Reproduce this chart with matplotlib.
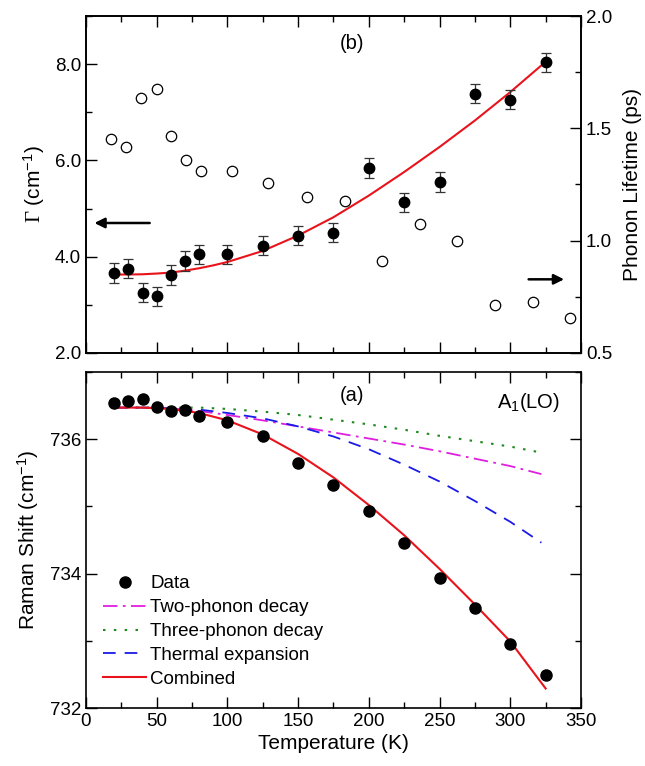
import matplotlib
matplotlib.use("Agg")
import numpy as np
import matplotlib.pyplot as plt

plt.rcParams['font.family'] = ['Liberation Sans', 'DejaVu Sans']
plt.rcParams['mathtext.fontset'] = 'custom'
plt.rcParams['mathtext.rm'] = 'Liberation Serif'
plt.rcParams['mathtext.sf'] = 'Liberation Sans'
plt.rcParams['mathtext.it'] = 'Liberation Sans:italic'
plt.rcParams['xtick.direction'] = 'in'
plt.rcParams['ytick.direction'] = 'in'

# ---- panel (b): linewidth and lifetime ----
T_gamma = [20, 30, 40, 50, 60, 70, 80, 100, 125, 150, 175, 200, 225, 250, 275, 300, 325]
gamma = [3.66, 3.75, 3.25, 3.18, 3.62, 3.91, 4.05, 4.05, 4.23, 4.44, 4.50, 5.84, 5.13, 5.55, 7.39, 7.26, 8.04]
gamma_err = [0.2] * 17

T_gfit = [20, 30, 40, 50, 60, 70, 80, 90, 100, 125, 150, 175, 200, 225, 250, 275, 300, 325]
gamma_fit = [3.63, 3.63, 3.635, 3.65, 3.67, 3.71, 3.76, 3.82, 3.89, 4.12, 4.44, 4.82, 5.27, 5.76, 6.28, 6.83, 7.42, 8.05]

T_life = [17.5, 28, 39, 50, 60, 71, 81, 103, 129, 156, 183, 209, 236, 262, 289, 316, 342]
lifetime = [1.451, 1.417, 1.636, 1.674, 1.465, 1.361, 1.312, 1.312, 1.257, 1.194, 1.178,
            0.909, 1.075, 0.998, 0.714, 0.729, 0.656]

# ---- panel (a): Raman shift ----
T_shift = [20, 30, 40, 50, 60, 70, 80, 100, 125, 150, 175, 200, 225, 250, 275, 300, 325]
shift = [736.54, 736.57, 736.60, 736.48, 736.42, 736.44, 736.34, 736.26, 736.05, 735.64,
         735.32, 734.93, 734.46, 733.93, 733.49, 732.95, 732.49]

T_comb = [20, 40, 60, 80, 100, 125, 150, 175, 200, 225, 250, 275, 300, 325]
combined = [736.47, 736.47, 736.45, 736.39, 736.28, 736.07, 735.78, 735.43, 735.02, 734.57,
            734.07, 733.54, 732.99, 732.29]

T_part = [20, 40, 60, 80, 100, 125, 150, 175, 200, 225, 250, 275, 300, 322]
two_phonon = [736.47, 736.47, 736.46, 736.42, 736.36, 736.28, 736.19, 736.10, 736.01, 735.92,
              735.82, 735.71, 735.60, 735.48]
three_phonon = [736.47, 736.47, 736.47, 736.47, 736.45, 736.41, 736.36, 736.29, 736.22, 736.14,
                736.05, 735.97, 735.89, 735.80]
thermal = [736.47, 736.47, 736.46, 736.44, 736.39, 736.31, 736.19, 736.04, 735.85, 735.62,
           735.37, 735.08, 734.77, 734.46]

fs = 13.5
fig = plt.figure(figsize=(6.45, 7.66), dpi=100)
axb = fig.add_axes([0.1333, 0.5392, 0.7675, 0.4399])
axa = fig.add_axes([0.1333, 0.0757, 0.7675, 0.4387])

# top panel
axb.errorbar(T_gamma, gamma, yerr=gamma_err, fmt='o', color='k', ms=7.5,
             ecolor='#333333', elinewidth=0.9, capsize=3.5, capthick=0.9, zorder=3)
axb.plot(T_gfit, gamma_fit, color='#e8131b', lw=1.5, zorder=2)
axb.set_xlim(0, 350)
axb.set_ylim(2, 9)
axb.set_yticks([2, 4, 6, 8])
axb.set_yticks([3, 5, 7, 9], minor=True)
axb.set_yticklabels(['2.0', '4.0', '6.0', '8.0'])
axb.set_xticks(np.arange(0, 351, 50))
axb.set_xticks(np.arange(25, 350, 50), minor=True)
axb.tick_params(axis='x', which='both', top=True, labelbottom=False)
axb.tick_params(axis='y', which='both', right=False)
axb.tick_params(which='major', length=8, width=1, labelsize=fs)
axb.tick_params(which='minor', length=4, width=1)
axb.set_ylabel(r'$\Gamma$ (cm$^{\mathsf{-1}}$)', fontsize=15, labelpad=6)
axb.text(188, 8.43, '(b)', fontsize=14.5, ha='center', va='center')
axb.annotate('', xy=(4, 4.70), xytext=(47, 4.70),
             arrowprops=dict(arrowstyle='-|>', color='k', lw=1.8, mutation_scale=15))
axb.annotate('', xy=(340, 3.53), xytext=(311, 3.53),
             arrowprops=dict(arrowstyle='-|>', color='k', lw=1.8, mutation_scale=15))

axr = axb.twinx()
axr.plot(T_life, lifetime, 'o', mfc='white', mec='k', mew=0.9, ms=7.5)
axr.set_ylim(0.5, 2.0)
axr.set_yticks([0.5, 1.0, 1.5, 2.0])
axr.set_yticks([0.75, 1.25, 1.75], minor=True)
axr.set_yticklabels(['0.5', '1.0', '1.5', '2.0'])
axr.tick_params(which='major', length=8, width=1, labelsize=fs)
axr.tick_params(which='minor', length=4, width=1)
axr.set_ylabel('Phonon Lifetime (ps)', fontsize=15, labelpad=8)

# bottom panel
axa.plot(T_shift, shift, 'o', color='k', ms=8, label='Data', zorder=4)
axa.plot(T_part, two_phonon, color='#e01ee0', lw=1.3, dashes=[8, 3, 1.5, 3],
         label='Two-phonon decay')
axa.plot(T_part, three_phonon, color='#1f8a1f', lw=1.5, dashes=[1.2, 4],
         label='Three-phonon decay')
axa.plot(T_part, thermal, color='#1a1ae6', lw=1.3, dashes=[7, 5],
         label='Thermal expansion')
axa.plot(T_comb, combined, color='#e8131b', lw=1.5, label='Combined', zorder=3)
axa.set_xlim(0, 350)
axa.set_ylim(732, 737)
axa.set_yticks([732, 734, 736])
axa.set_yticks([733, 735, 737], minor=True)
axa.set_xticks(np.arange(0, 351, 50))
axa.set_xticks(np.arange(25, 350, 50), minor=True)
axa.tick_params(which='both', top=True, right=True)
axa.tick_params(which='major', length=8, width=1, labelsize=fs)
axa.tick_params(which='minor', length=4, width=1)
axa.set_xlabel('Temperature (K)', fontsize=15, labelpad=3)
axa.set_ylabel('Raman Shift (cm$^{\\mathsf{-1}}$)', fontsize=15, labelpad=6)
axa.text(188, 736.65, '(a)', fontsize=14.5, ha='center', va='center')
axa.text(313, 736.55, r'$\mathsf{A_1}$(LO)', fontsize=14.5, ha='center', va='center')
axa.legend(loc='lower left', bbox_to_anchor=(0.035, 0.06), frameon=False, fontsize=fs,
           borderpad=0, borderaxespad=0, handlelength=2.3, handletextpad=0.2,
           labelspacing=0.36, numpoints=1)

for ax in (axa, axb, axr):
    for s in ax.spines.values():
        s.set_linewidth(1.2)

fig.savefig('out.png', dpi=100)
